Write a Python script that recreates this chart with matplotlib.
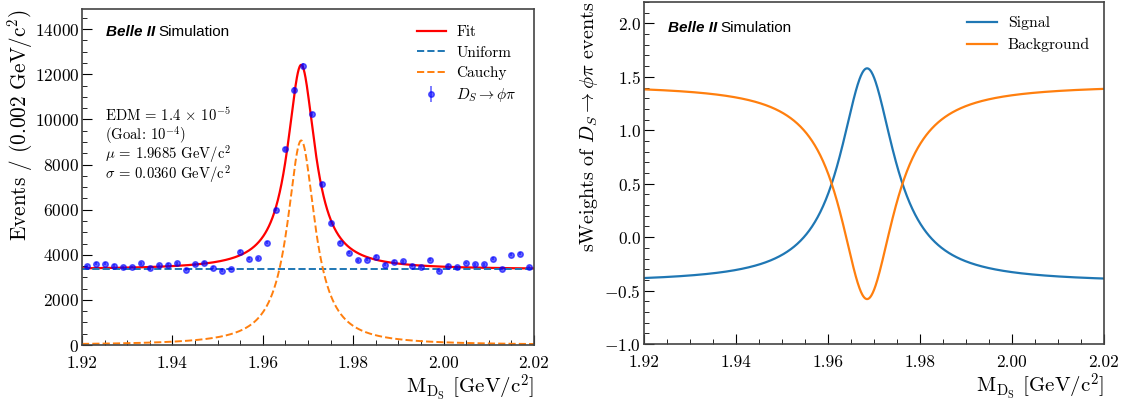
import numpy as np
import matplotlib
matplotlib.use("Agg")
import matplotlib.pyplot as plt
from matplotlib.ticker import MultipleLocator

plt.rcParams['font.family'] = 'serif'
plt.rcParams['font.serif'] = ['cmr10', 'DejaVu Serif']
plt.rcParams['mathtext.fontset'] = 'cm'
plt.rcParams['axes.formatter.use_mathtext'] = True
plt.rcParams['axes.unicode_minus'] = True

# ---------------- data ----------------
bin_width = 0.002
x_lo, x_hi = 1.92, 2.02
counts = [3496, 3614, 3614, 3525, 3451, 3466, 3628, 3422, 3540, 3569,
          3628, 3348, 3584, 3658, 3437, 3304, 3378, 4130, 3835, 3850,
          4528, 6003, 8673, 11313, 12389, 10236, 7153, 5413, 4528, 4086,
          3761, 3791, 3923, 3569, 3702, 3717, 3525, 3451, 3791, 3289,
          3525, 3451, 3643, 3584, 3584, 3835, 3378, 4012, 4056, 3466]

# fit parameters
uniform_level = 3350.0     # events / bin
cauchy_peak = 9070.0       # events / bin at mu
cauchy_mu = 1.9685
cauchy_gamma = 0.0037
# sWeight coefficients: w_s = (a r + c)/(r + 1), r = signal/background density ratio
sw_a = 2.32
sw_c = -0.425

info_lines = [r'EDM = 1.4 $\times$ 10$^{-5}$',
              r'(Goal: 10$^{-4}$)',
              r'$\mu$ = 1.9685 GeV/c$^2$',
              r'$\sigma$ = 0.0360 GeV/c$^2$']

# ---------------- derived ----------------
edges = np.arange(len(counts) + 1) * bin_width + x_lo
centers = 0.5 * (edges[:-1] + edges[1:])
counts = np.array(counts, dtype=float)
errs = np.sqrt(counts)

xs = np.linspace(x_lo, x_hi, 1000)
cauchy = cauchy_peak / (1.0 + ((xs - cauchy_mu) / cauchy_gamma) ** 2)
uniform = np.full_like(xs, uniform_level)
fit = cauchy + uniform
ratio = cauchy / uniform
w_sig = (sw_a * ratio + sw_c) / (ratio + 1.0)
w_bkg = 1.0 - w_sig

fig = plt.figure(figsize=(11.31, 4.05), dpi=100)
ax1 = fig.add_axes([0.0725, 0.148, 0.3996, 0.830])
ax2 = fig.add_axes([0.5694, 0.1506, 0.4067, 0.8444])


def belle_label(ax, x, y):
    t = ax.text(x, y, 'Belle II', transform=ax.transAxes, fontsize=11,
                va='center', ha='left', family='Liberation Sans',
                fontweight='bold', fontstyle='italic')
    fig.canvas.draw()
    bb = t.get_window_extent().transformed(ax.transAxes.inverted())
    ax.text(bb.x1 + 0.008, y, 'Simulation', transform=ax.transAxes,
            fontsize=11, va='center', ha='left', family='Liberation Sans')


# ---------- left ----------
ax1.plot(xs, fit, color='red', lw=1.6, label='Fit')
ax1.plot(xs, uniform, color='tab:blue', ls='--', lw=1.4, label='Uniform')
ax1.plot(xs, cauchy, color='tab:orange', ls='--', lw=1.4, label='Cauchy')
ax1.errorbar(centers, counts, yerr=errs, fmt='o', color='blue', alpha=0.6,
             ms=4, lw=1.2, label=r'$D_S \to \phi\pi$')
ax1.set_xlim(x_lo, x_hi)
ax1.set_ylim(0, 14900)
ax1.set_ylabel(r'Events / (0.002 GeV/c$^2$)', fontsize=15.3, loc='top',
               labelpad=0)
ax1.set_xlabel(r'M$_{\mathrm{D_S}}$ [GeV/c$^2$]', fontsize=15, loc='right',
               labelpad=1)
belle_label(ax1, 0.053, 0.93)
for i, line in enumerate(info_lines):
    ax1.text(0.05, 0.668 - i * 0.0575, line, transform=ax1.transAxes,
             fontsize=10.6, va='baseline', ha='left')
ax1.legend(loc='upper right', frameon=False, fontsize=11, handlelength=1.9,
           labelspacing=0.42, borderaxespad=0.7, handletextpad=0.7)

# ---------- right ----------
ax2.plot(xs, w_sig, color='tab:blue', lw=1.6, label='Signal')
ax2.plot(xs, w_bkg, color='tab:orange', lw=1.6, label='Background')
ax2.set_xlim(x_lo, x_hi)
ax2.set_ylim(-1.0, 2.2)
ax2.set_ylabel(r'sWeights of $D_S \to \phi\pi$ events', fontsize=14.5,
               loc='top', labelpad=3)
ax2.set_xlabel(r'M$_{\mathrm{D_S}}$ [GeV/c$^2$]', fontsize=15, loc='right',
               labelpad=1)
belle_label(ax2, 0.052, 0.924)
ax2.legend(loc='upper right', frameon=False, fontsize=11.3, handlelength=1.9,
           labelspacing=0.5, borderaxespad=0.5, handletextpad=0.7)

for ax in (ax1, ax2):
    ax.xaxis.set_major_locator(MultipleLocator(0.02))
    ax.xaxis.set_minor_locator(MultipleLocator(0.005))
    ax.tick_params(which='both', direction='in', top=False, right=False,
                   labelsize=12.5)
    ax.tick_params(which='major', length=7)
    ax.tick_params(which='minor', length=3.5)
    ax.tick_params(axis='x', which='major', pad=8)
    ax.tick_params(axis='y', which='major', pad=2)
    ax.xaxis.set_major_formatter(plt.FuncFormatter(lambda v, p: f'{v:.2f}'))
    for s in ax.spines.values():
        s.set_linewidth(1.2)
        s.set_color('#444444')
ax1.yaxis.set_major_locator(MultipleLocator(2000))
ax1.yaxis.set_minor_locator(MultipleLocator(500))
ax2.yaxis.set_major_locator(MultipleLocator(0.5))
ax2.yaxis.set_minor_locator(MultipleLocator(0.1))
ax2.yaxis.set_major_formatter(plt.FuncFormatter(lambda v, p: f'${v:.1f}$'))

fig.savefig('out.png', dpi=100)
